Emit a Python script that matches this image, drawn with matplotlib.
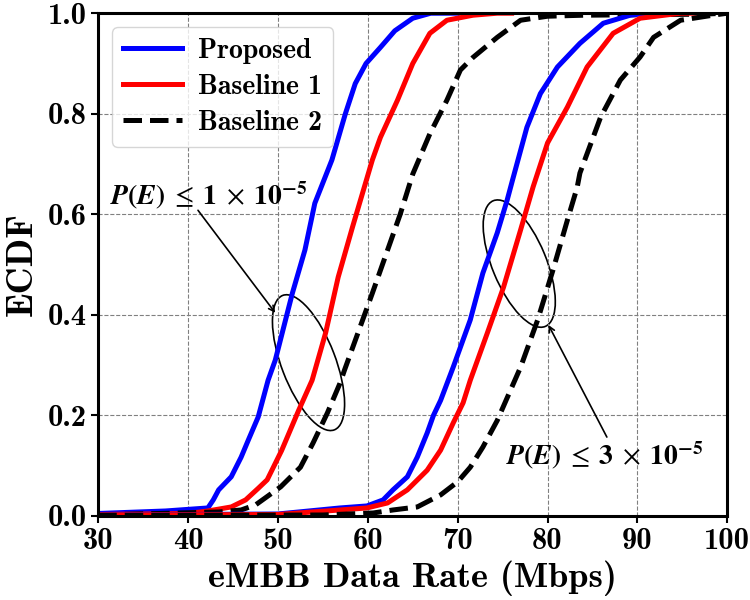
import matplotlib
matplotlib.use("Agg")
import matplotlib.pyplot as plt
from matplotlib.patches import Ellipse
from matplotlib.transforms import ScaledTranslation

plt.rcParams["font.family"] = "cmb10"
plt.rcParams["mathtext.fontset"] = "cm"
plt.rcParams["axes.unicode_minus"] = False

# ECDF curves: (data rate in Mbps, cumulative prob)
# group with P(E) <= 1e-5
prop_lo_x = [30, 37.5, 42.2, 42.8, 43.4, 44.8, 45.9, 46.7, 47.8, 48.9, 49.7, 51.6,
             53.0, 54.1, 56.0, 57.5, 58.6, 59.8, 61.4, 63.0, 65.0, 67.0, 70.0]
prop_lo_y = [0.005, 0.01, 0.016, 0.032, 0.052, 0.078, 0.117, 0.151, 0.197, 0.27, 0.31, 0.443,
             0.529, 0.622, 0.708, 0.80, 0.86, 0.90, 0.932, 0.965, 0.99, 1.0, 1.0]

base1_lo_x = [30, 40, 42.2, 44.8, 46.4, 47.8, 48.8, 50.4, 52.3, 53.8, 55.3, 56.7,
              58.3, 60.5, 61.4, 63.3, 65.0, 66.9, 68.8, 71.7, 74.4, 76.0]
base1_lo_y = [0.003, 0.005, 0.01, 0.018, 0.032, 0.055, 0.072, 0.13, 0.21, 0.27, 0.364, 0.475,
              0.575, 0.708, 0.753, 0.827, 0.90, 0.96, 0.986, 0.996, 1.0, 1.0]

base2_lo_x = [30, 43.4, 45.9, 47.5, 50.3, 52.5, 53.9, 55.5, 56.9, 57.4, 60.5, 63.6,
              65.0, 66.9, 68.8, 70.3, 71.7, 74.4, 77.0, 80.0, 84.0, 97.0, 100]
base2_lo_y = [0.002, 0.008, 0.012, 0.022, 0.058, 0.097, 0.145, 0.205, 0.264, 0.29, 0.443, 0.60,
              0.68, 0.76, 0.827, 0.887, 0.912, 0.952, 0.986, 0.994, 0.996, 0.998, 1.0]

# group with P(E) <= 3e-5
prop_hi_x = [30, 50, 56.9, 59.9, 61.7, 62.8, 64.4, 65.5, 66.6, 67.3, 68.1, 69.5,
             71.4, 72.8, 74.4, 75.5, 76.1, 77.7, 79.2, 81.1, 83.6, 86.2, 89.2, 91.1, 94.0]
prop_hi_y = [0.002, 0.004, 0.016, 0.02, 0.032, 0.052, 0.078, 0.117, 0.165, 0.2, 0.23, 0.296,
             0.39, 0.483, 0.563, 0.628, 0.668, 0.773, 0.84, 0.893, 0.94, 0.98, 0.996, 1.0, 1.0]

base1_hi_x = [30, 50, 56.9, 59.9, 62.2, 64.4, 66.6, 68.1, 69.5, 70.6, 71.4, 73.3,
              75.1, 77.0, 78.4, 80.0, 82.2, 84.4, 87.3, 90.3, 94.8, 97.0]
base1_hi_y = [0.002, 0.003, 0.012, 0.016, 0.026, 0.052, 0.091, 0.131, 0.185, 0.225, 0.27, 0.364,
              0.455, 0.569, 0.655, 0.742, 0.813, 0.893, 0.96, 0.99, 1.0, 1.0]

base2_hi_x = [30, 55, 60.6, 62.8, 65.5, 68.1, 70.0, 71.4, 72.8, 74.4, 77.0, 78.9,
              80.6, 82.2, 83.3, 83.6, 85.9, 88.1, 90.3, 91.8, 94.8, 98.4, 100]
base2_hi_y = [0.001, 0.002, 0.006, 0.012, 0.018, 0.042, 0.068, 0.097, 0.137, 0.19, 0.296, 0.39,
              0.489, 0.588, 0.654, 0.682, 0.793, 0.867, 0.913, 0.952, 0.986, 0.996, 1.0]

labels = ["Proposed", "Baseline 1", "Baseline 2"]
x_ticks = [30, 40, 50, 60, 70, 80, 90, 100]
y_ticks = [0.0, 0.2, 0.4, 0.6, 0.8, 1.0]

fig = plt.figure(figsize=(7.5, 6), dpi=100)
ax = fig.add_axes([0.131, 0.14, 0.8387, 0.838])

lw = 3.6
ax.plot(prop_lo_x, prop_lo_y, color="blue", lw=lw, label=labels[0])
ax.plot(base1_lo_x, base1_lo_y, color="red", lw=lw, label=labels[1])
ax.plot(base2_lo_x, base2_lo_y, color="black", lw=lw, ls="--", label=labels[2])
ax.plot(prop_hi_x, prop_hi_y, color="blue", lw=lw)
ax.plot(base1_hi_x, base1_hi_y, color="red", lw=lw)
ax.plot(base2_hi_x, base2_hi_y, color="black", lw=lw, ls="--")

ax.set_xlim(30, 100)
ax.set_ylim(0, 1)
ax.set_xticks(x_ticks)
ax.set_yticks(y_ticks)
ax.set_yticklabels([f"{v:.1f}" for v in y_ticks])
ax.grid(True, ls="--", color="gray", lw=0.8)
ax.tick_params(direction="out", length=5, width=1.5, labelsize=22)
for s in ax.spines.values():
    s.set_linewidth(2.2)

ax.set_xlabel("eMBB Data Rate (Mbps)", fontsize=26, labelpad=4)
ax.set_ylabel("ECDF", fontsize=27, labelpad=6)

leg = ax.legend(loc="upper left", fontsize=20, handlelength=2.1,
                handletextpad=0.6, labelspacing=0.35)

# ellipses marking the two groups (size in inches, centred on a data point)
e1 = Ellipse((0, 0), 1.44, 0.54, angle=-69, fill=False, lw=1.2, color="k",
             transform=fig.dpi_scale_trans + ScaledTranslation(53.4, 0.305, ax.transData))
e2 = Ellipse((0, 0), 1.36, 0.54, angle=-67.5, fill=False, lw=1.2, color="k",
             transform=fig.dpi_scale_trans + ScaledTranslation(76.85, 0.502, ax.transData))
ax.add_patch(e1)
ax.add_patch(e2)

arrow = dict(arrowstyle="->", lw=1.2, color="k", shrinkA=0, shrinkB=0)
ax.annotate("", xy=(49.7, 0.404), xytext=(41.1, 0.608), arrowprops=arrow)
ax.annotate("", xy=(80.1, 0.380), xytext=(86.6, 0.157), arrowprops=arrow)

ax.text(42.3, 0.638,
        r"$\mathbfit{P}\mathbf{(}\mathbfit{E}\mathbf{)}\;\leq\;\mathbf{1}\;\times\;\mathbf{10^{-5}}$",
        fontsize=20, ha="center", va="center", math_fontfamily="stix")
ax.text(86.4, 0.121,
        r"$\mathbfit{P}\mathbf{(}\mathbfit{E}\mathbf{)}\;\leq\;\mathbf{3}\;\times\;\mathbf{10^{-5}}$",
        fontsize=20, ha="center", va="center", math_fontfamily="stix")

fig.savefig("out.png", dpi=100)
